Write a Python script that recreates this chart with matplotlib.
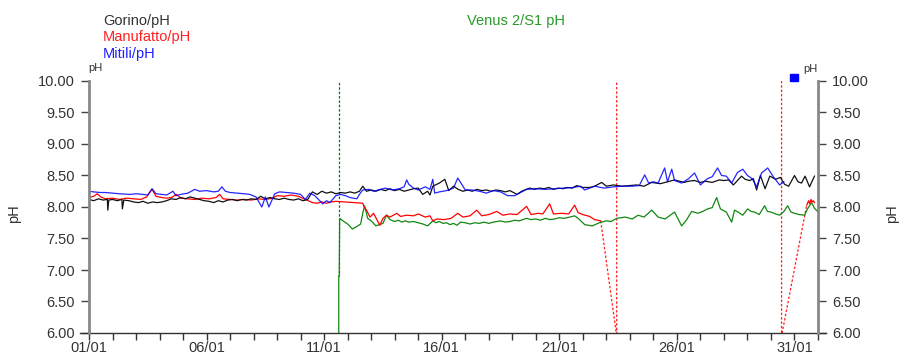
import matplotlib
matplotlib.use("Agg")
import matplotlib.pyplot as plt
from matplotlib.lines import Line2D

plt.rcParams['font.family'] = ['Liberation Sans', 'DejaVu Sans']

# ---------------- data (time in days from 01/01 00:00) ----------------
gorino_t = [0.00, 0.20, 0.40, 0.60, 0.78, 0.80, 0.84, 1.00, 1.20, 1.40,
            1.42, 1.48, 1.70, 1.90, 2.10, 2.30, 2.50, 2.70, 2.90, 3.10,
            3.30, 3.50, 3.70, 3.90, 4.10, 4.30, 4.50, 4.70, 4.90, 5.10,
            5.30, 5.50, 5.70, 5.90, 6.10, 6.30, 6.50, 6.70, 6.90, 7.10,
            7.30, 7.50, 7.70, 7.90, 8.10, 8.30, 8.50, 8.70, 8.90, 9.10,
            9.30, 9.50, 9.70, 9.90, 10.10, 10.30, 10.50, 10.70, 10.90, 11.10,
            11.30, 11.50, 11.64, 11.80, 12.00, 12.20, 12.40, 12.60, 12.80, 13.00,
            13.20, 13.40, 13.60, 13.80, 14.00, 14.19, 14.40, 14.50, 14.62, 14.90,
            15.13, 15.30, 15.50, 15.70, 15.90, 16.10, 16.30, 16.50, 16.70, 16.90,
            17.10, 17.30, 17.50, 17.70, 17.90, 18.20, 18.40, 18.74, 18.95, 19.15,
            19.35, 19.55, 19.75, 19.95, 20.15, 20.35, 20.55, 20.74, 21.00, 21.29,
            21.50, 21.80, 22.00, 22.30, 22.65, 22.95, 23.30, 23.60, 23.93, 24.30,
            24.60, 24.90, 25.30, 25.50, 25.75, 26.00, 26.20, 26.50, 26.80, 27.00,
            27.20, 27.40, 27.75, 27.90, 28.10, 28.25, 28.39, 28.55, 28.75, 28.95,
            29.20, 29.40, 29.58, 29.75, 30.00, 30.15, 30.30, 30.45, 30.64, 30.85]
gorino_v = [8.12, 8.10, 8.13, 8.11, 8.12, 7.95, 8.11, 8.12, 8.10, 8.12,
            7.97, 8.11, 8.10, 8.08, 8.07, 8.09, 8.06, 8.08, 8.07, 8.08,
            8.10, 8.13, 8.12, 8.15, 8.13, 8.16, 8.14, 8.12, 8.10, 8.09,
            8.07, 8.10, 8.08, 8.11, 8.12, 8.10, 8.12, 8.11, 8.13, 8.12,
            8.17, 8.13, 8.15, 8.13, 8.12, 8.14, 8.12, 8.11, 8.13, 8.10,
            8.12, 8.24, 8.20, 8.25, 8.22, 8.24, 8.21, 8.23, 8.22, 8.24,
            8.22, 8.25, 8.33, 8.25, 8.27, 8.25, 8.28, 8.26, 8.29, 8.26,
            8.28, 8.25, 8.27, 8.29, 8.30, 8.20, 8.25, 8.19, 8.33, 8.38,
            8.44, 8.26, 8.33, 8.28, 8.25, 8.27, 8.25, 8.28, 8.26, 8.27,
            8.25, 8.27, 8.26, 8.24, 8.26, 8.20, 8.25, 8.30, 8.28, 8.30,
            8.29, 8.31, 8.28, 8.30, 8.29, 8.31, 8.30, 8.34, 8.31, 8.31,
            8.33, 8.39, 8.33, 8.35, 8.33, 8.34, 8.35, 8.33, 8.39, 8.37,
            8.40, 8.43, 8.39, 8.41, 8.42, 8.39, 8.41, 8.39, 8.43, 8.42,
            8.43, 8.35, 8.49, 8.44, 8.42, 8.45, 8.27, 8.50, 8.29, 8.49,
            8.44, 8.47, 8.36, 8.33, 8.50, 8.40, 8.38, 8.49, 8.32, 8.49]

mitili_t = [0.00, 0.20, 0.47, 0.70, 1.00, 1.30, 1.74, 2.00, 2.30, 2.50,
            2.68, 2.85, 3.10, 3.30, 3.57, 3.70, 3.90, 4.20, 4.50, 4.70,
            5.00, 5.30, 5.50, 5.65, 5.80, 6.00, 6.30, 6.60, 6.84, 7.10,
            7.35, 7.50, 7.65, 7.90, 8.10, 8.40, 8.70, 9.00, 9.20, 9.39,
            9.60, 9.94, 10.10, 10.24, 10.50, 10.70, 10.90, 11.10, 11.39, 11.50,
            11.64, 11.90, 12.10, 12.30, 12.60, 12.90, 13.20, 13.40, 13.51, 13.60,
            13.80, 14.00, 14.30, 14.50, 14.62, 14.70, 14.90, 15.20, 15.50, 15.68,
            15.85, 16.00, 16.30, 16.60, 16.90, 17.20, 17.50, 17.80, 18.10, 18.30,
            18.60, 19.00, 19.40, 19.80, 20.20, 20.60, 20.90, 21.08, 21.50, 21.90,
            22.30, 22.70, 23.10, 23.40, 23.63, 23.80, 24.00, 24.20, 24.48, 24.60,
            24.78, 24.90, 25.20, 25.50, 25.75, 26.00, 26.30, 26.50, 26.73, 26.90,
            27.10, 27.33, 27.58, 27.80, 28.00, 28.20, 28.39, 28.60, 28.86, 29.10,
            29.37, 29.55]
mitili_v = [8.25, 8.24, 8.23, 8.23, 8.22, 8.21, 8.20, 8.21, 8.20, 8.19,
            8.29, 8.21, 8.20, 8.19, 8.25, 8.18, 8.20, 8.22, 8.28, 8.25,
            8.26, 8.24, 8.25, 8.32, 8.25, 8.23, 8.22, 8.21, 8.20, 8.16,
            8.00, 8.16, 8.00, 8.21, 8.24, 8.23, 8.22, 8.20, 8.12, 8.22,
            8.18, 8.05, 8.10, 8.07, 8.18, 8.20, 8.18, 8.15, 8.13, 8.20,
            8.27, 8.28, 8.25, 8.27, 8.30, 8.27, 8.29, 8.32, 8.43, 8.36,
            8.30, 8.27, 8.32, 8.28, 8.44, 8.22, 8.24, 8.26, 8.30, 8.46,
            8.36, 8.27, 8.27, 8.25, 8.22, 8.26, 8.24, 8.18, 8.18, 8.22,
            8.28, 8.29, 8.28, 8.29, 8.30, 8.31, 8.33, 8.27, 8.33, 8.30,
            8.32, 8.33, 8.33, 8.34, 8.51, 8.38, 8.40, 8.38, 8.62, 8.40,
            8.60, 8.42, 8.38, 8.45, 8.54, 8.35, 8.45, 8.48, 8.62, 8.50,
            8.49, 8.38, 8.55, 8.60, 8.50, 8.45, 8.32, 8.54, 8.62, 8.48,
            8.35, 8.40]

manuf_t = [0.00, 0.20, 0.35, 0.50, 0.70, 1.00, 1.30, 1.60, 1.90, 2.20,
           2.45, 2.68, 2.85, 3.10, 3.30, 3.50, 3.72, 3.90, 4.20, 4.50,
           4.80, 5.10, 5.40, 5.56, 5.70, 6.00, 6.30, 6.60, 6.90, 7.20,
           7.50, 7.80, 8.00, 8.30, 8.60, 8.90, 9.20, 9.50, 9.70, 9.90,
           10.10, 10.30, 10.50, 11.64, 11.70, 11.80, 11.95, 12.10, 12.37, 12.50,
           12.65, 12.80, 13.09, 13.25, 13.50, 13.80, 14.00, 14.30, 14.50, 14.62,
           14.80, 15.10, 15.40, 15.68, 15.90, 16.20, 16.49, 16.70, 17.00, 17.34,
           17.60, 17.90, 18.20, 18.61, 18.80, 19.10, 19.30, 19.59, 19.75, 20.10,
           20.40, 20.65, 20.80, 21.00, 21.29, 21.50, 21.76]
manuf_v = [8.15, 8.17, 8.21, 8.16, 8.13, 8.14, 8.12, 8.14, 8.13, 8.12,
           8.16, 8.28, 8.17, 8.15, 8.14, 8.15, 8.20, 8.14, 8.13, 8.12,
           8.14, 8.13, 8.15, 8.20, 8.13, 8.12, 8.11, 8.12, 8.11, 8.13,
           8.12, 8.14, 8.18, 8.17, 8.19, 8.17, 8.12, 8.07, 8.06, 8.08,
           8.06, 8.08, 8.09, 8.06, 8.00, 7.95, 7.84, 7.90, 7.71, 7.82,
           7.87, 7.84, 7.90, 7.85, 7.87, 7.86, 7.89, 7.84, 7.86, 7.78,
           7.81, 7.80, 7.82, 7.90, 7.84, 7.86, 7.95, 7.86, 7.88, 7.93,
           7.87, 7.89, 7.88, 8.01, 7.88, 7.90, 7.89, 8.05, 7.89, 7.90,
           7.89, 8.03, 7.91, 7.88, 7.85, 7.80, 7.78]
manuf_end_t = [30.52, 30.60, 30.65, 30.70, 30.75, 30.80, 30.85]
manuf_end_v = [8.03, 8.10, 8.05, 8.12, 8.08, 8.10, 8.07]
# dashed segments across missing / out-of-range readings
manuf_gap_t = [21.76, 22.44, 22.44, 29.45, 29.45, 30.52]
manuf_gap_v = [7.78, 5.95, 10.05, 10.05, 5.95, 8.03]

venus_t = [10.62, 10.62, 10.64, 10.66, 10.80, 11.00, 11.20, 11.39, 11.55, 11.64,
           11.72, 11.85, 12.00, 12.20, 12.50, 12.65, 12.80, 13.00, 13.15, 13.30,
           13.45, 13.60, 13.80, 14.00, 14.20, 14.40, 14.62, 14.75, 14.90, 15.05,
           15.20, 15.35, 15.50, 15.65, 15.80, 16.00, 16.20, 16.40, 16.60, 16.80,
           17.00, 17.20, 17.50, 17.70, 17.90, 18.10, 18.30, 18.61, 18.80, 19.00,
           19.20, 19.40, 19.60, 19.80, 20.00, 20.20, 20.45, 20.65, 20.80, 21.08,
           21.40, 21.70, 22.00, 22.20, 22.44, 22.80, 23.10, 23.35, 23.60, 23.93,
           24.20, 24.50, 24.90, 25.20, 25.40, 25.63, 25.90, 26.10, 26.31, 26.50,
           26.69, 26.85, 27.10, 27.33, 27.45, 27.60, 27.80, 28.01, 28.15, 28.30,
           28.50, 28.73, 28.85, 29.00, 29.20, 29.37, 29.55, 29.71, 29.85, 30.00,
           30.20, 30.43, 30.55, 30.73, 30.85, 30.98]
venus_v = [5.90, 6.90, 6.90, 7.82, 7.78, 7.73, 7.65, 7.69, 7.73, 7.90,
           8.02, 7.82, 7.78, 7.70, 7.74, 7.87, 7.80, 7.77, 7.79, 7.76,
           7.78, 7.76, 7.77, 7.75, 7.73, 7.70, 7.78, 7.75, 7.77, 7.74,
           7.75, 7.72, 7.74, 7.71, 7.76, 7.75, 7.73, 7.75, 7.74, 7.76,
           7.74, 7.76, 7.78, 7.76, 7.77, 7.79, 7.78, 7.82, 7.80, 7.81,
           7.79, 7.82, 7.80, 7.81, 7.83, 7.82, 7.84, 7.86, 7.82, 7.72,
           7.70, 7.75, 7.78, 7.77, 7.82, 7.84, 7.81, 7.87, 7.84, 7.95,
           7.84, 7.81, 7.92, 7.70, 7.79, 7.93, 7.90, 7.93, 7.97, 7.99,
           8.15, 7.97, 7.92, 7.76, 7.95, 7.92, 7.87, 7.97, 7.93, 7.92,
           7.88, 8.02, 7.93, 7.92, 7.89, 7.87, 7.93, 8.02, 7.92, 7.90,
           7.88, 7.87, 7.97, 8.07, 7.98, 7.93]
venus_gap_t = [10.62, 10.62]
venus_gap_v = [10.05, 6.90]

x_tick_days = list(range(0, 32))
x_label_days = [0, 5, 10, 15, 20, 25, 30]
x_labels = ["01/01", "06/01", "11/01", "16/01", "21/01", "26/01", "31/01"]
y_ticks = [6.0, 6.5, 7.0, 7.5, 8.0, 8.5, 9.0, 9.5, 10.0]

legend_names = ["Gorino/pH", "Manufatto/pH", "Mitili/pH"]
legend_colors = ["#333333", "#ff2020", "#2020ff"]

# ---------------- figure ----------------
W, H = 901, 354
fig = plt.figure(figsize=(W / 100, H / 100), dpi=100)
ax = fig.add_axes([89 / W, 1 - 333 / H, (818 - 89) / W, (333 - 81) / H])

lw = 0.9
ax.plot(venus_gap_t, venus_gap_v, color="#007a00", lw=0.9, ls=(0, (2, 1.5)))
ax.plot(manuf_gap_t, manuf_gap_v, color="#ff2020", lw=0.9, ls=(0, (2, 1.5)))
ax.plot(venus_t, venus_v, color="#118811", lw=lw)
ax.plot(manuf_t, manuf_v, color="#ff0000", lw=lw)
ax.plot(manuf_end_t, manuf_end_v, color="#ff0000", lw=lw)
ax.plot(gorino_t, gorino_v, color="#111111", lw=lw)
ax.plot(mitili_t, mitili_v, color="#0000ff", lw=lw, alpha=0.85)

ax.set_xlim(0, 31)
ax.set_ylim(6.0, 10.0)

ax.set_xticks(x_tick_days)
ax.set_xticklabels([x_labels[x_label_days.index(d)] if d in x_label_days else "" for d in x_tick_days])
ax.set_yticks(y_ticks)
ax.set_yticklabels([f"{v:.2f}" for v in y_ticks])

ax.tick_params(axis="x", direction="out", length=5, width=1, color="#333333",
               labelsize=10.5, labelcolor="#333333", pad=1)
ax.tick_params(axis="y", direction="out", length=6, width=1, color="#444444",
               labelsize=10.5, labelcolor="#333333", pad=4, left=True, right=True,
               labelleft=True, labelright=True)

ax.spines["top"].set_visible(False)
ax.spines["left"].set_color("#888888")
ax.spines["left"].set_linewidth(2)
ax.spines["right"].set_color("#888888")
ax.spines["right"].set_linewidth(2)
ax.spines["bottom"].set_visible(False)
ax.add_line(Line2D([-0.012, 1.011], [0, 0], transform=ax.transAxes, color="#333333",
                   lw=1, clip_on=False))

fig.text(14 / W, 1 - 214 / H, "pH", rotation=90, fontsize=10.5, color="#333333",
         ha="center", va="center")
fig.text(892 / W, 1 - 214 / H, "pH", rotation=90, fontsize=10.5, color="#333333",
         ha="center", va="center")

# series labels
for i, (n, c) in enumerate(zip(legend_names, legend_colors)):
    fig.text(103 / W, 1 - (21 + 16.5 * i) / H, n, color=c, fontsize=10.5, ha="left", va="center")
fig.text(467 / W, 1 - 21 / H, "Venus 2/S1 pH", color="#2a9a2a", fontsize=10.5,
         ha="left", va="center")

# small unit labels
fig.text(88 / W, 1 - 68 / H, "pH", fontsize=8, color="#333333", ha="left", va="center")
fig.text(803 / W, 1 - 69 / H, "pH", fontsize=8, color="#333333", ha="left", va="center")
fig.patches.append(plt.Rectangle((790 / W, 1 - 81 / H), 8 / W, 7 / H, transform=fig.transFigure,
                                 color="#0000ff", figure=fig))

fig.savefig("out.png", dpi=100)
